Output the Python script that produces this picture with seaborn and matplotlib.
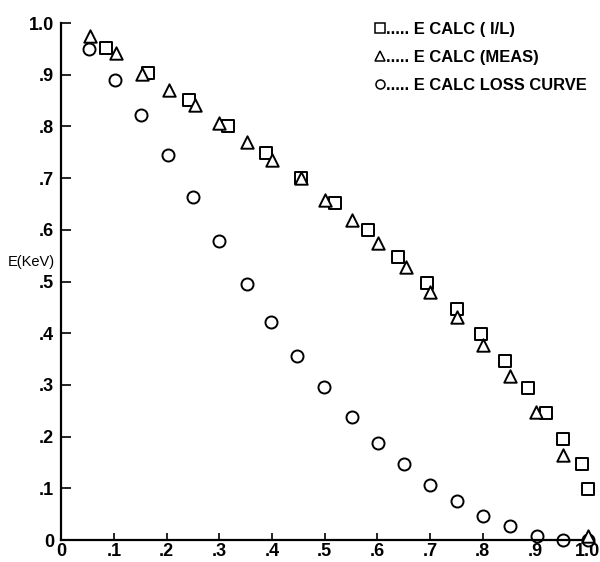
import matplotlib
matplotlib.use("Agg")
import matplotlib.pyplot as plt
from matplotlib.lines import Line2D
import seaborn as sns
import pandas as pd

# E CALC (I/L) - squares
sq_x = [0.085, 0.164, 0.243, 0.317, 0.388, 0.455, 0.52, 0.583, 0.64, 0.694,
        0.751, 0.797, 0.842, 0.886, 0.921, 0.953, 0.988, 1.0]
sq_y = [0.951, 0.903, 0.851, 0.800, 0.748, 0.700, 0.651, 0.600, 0.548, 0.498,
        0.446, 0.398, 0.347, 0.295, 0.245, 0.196, 0.148, 0.099]

# E CALC (MEAS) - triangles
tr_x = [0.055, 0.104, 0.153, 0.205, 0.254, 0.300, 0.352, 0.400, 0.455, 0.501,
        0.552, 0.602, 0.655, 0.700, 0.751, 0.800, 0.852, 0.901, 0.953, 1.0]
tr_y = [0.974, 0.943, 0.901, 0.870, 0.841, 0.807, 0.769, 0.736, 0.700, 0.658,
        0.620, 0.574, 0.529, 0.480, 0.431, 0.377, 0.318, 0.248, 0.164, 0.008]

# E CALC LOSS CURVE - circles
ci_x = [0.053, 0.103, 0.152, 0.202, 0.251, 0.300, 0.352, 0.398, 0.447, 0.499,
        0.552, 0.602, 0.651, 0.700, 0.752, 0.800, 0.852, 0.903, 0.952, 1.0]
ci_y = [0.950, 0.890, 0.823, 0.744, 0.664, 0.578, 0.496, 0.422, 0.356, 0.296,
        0.239, 0.187, 0.148, 0.107, 0.075, 0.046, 0.027, 0.008, 0.001, 0.0]

labels = ["E CALC ( I/L)", "E CALC (MEAS)", "E CALC LOSS CURVE"]
x_ticks = [0, .1, .2, .3, .4, .5, .6, .7, .8, .9, 1.0]
x_ticklabels = ["0", ".1", ".2", ".3", ".4", ".5", ".6", ".7", ".8", ".9", "1.0"]
y_ticks = [0, .1, .2, .3, .4, .5, .6, .7, .8, .9, 1.0]
y_ticklabels = ["0", ".1", ".2", ".3", ".4", ".5", ".6", ".7", ".8", ".9", "1.0"]

sns.set_theme(style="ticks")
plt.rcParams['font.family'] = ['Liberation Sans', 'DejaVu Sans']

fig = plt.figure(figsize=(6.0, 5.62), dpi=100)
ax = fig.add_axes([0.102, 0.039, 0.878, 0.92])

df_sq = pd.DataFrame({"x": sq_x, "y": sq_y})
df_tr = pd.DataFrame({"x": tr_x, "y": tr_y})
df_ci = pd.DataFrame({"x": ci_x, "y": ci_y})

common = dict(facecolor="white", edgecolor="black", linewidth=1.4, clip_on=False, legend=False)
sns.scatterplot(data=df_sq, x="x", y="y", marker="s", s=65, ax=ax, zorder=3, **common)
sns.scatterplot(data=df_tr, x="x", y="y", marker="^", s=80, ax=ax, zorder=4, **common)
sns.scatterplot(data=df_ci, x="x", y="y", marker="o", s=75, ax=ax, zorder=2, **common)

ax.set_xlim(0, 1.0)
ax.set_ylim(0, 1.0)
ax.set_xticks(x_ticks)
ax.set_xticklabels(x_ticklabels)
ax.set_yticks(y_ticks)
ax.set_yticklabels(y_ticklabels)
ax.tick_params(direction="in", width=1.2, labelsize=13, colors="black")
ax.tick_params(axis="x", pad=2, length=5)
ax.tick_params(axis="y", pad=5, length=7)
for lab in ax.get_xticklabels() + ax.get_yticklabels():
    lab.set_fontweight("bold")
sns.despine(ax=ax)
for sp in ["left", "bottom"]:
    ax.spines[sp].set_linewidth(1.6)
    ax.spines[sp].set_color("black")

ax.set_xlabel("")
ax.set_ylabel("")
ax.text(-0.012, 0.538, "E(KeV)", transform=ax.transAxes, ha="right", va="center",
        fontsize=10.5, color="black")

mk = dict(linestyle="none", markerfacecolor="white", markeredgecolor="black",
          markersize=6.5, markeredgewidth=1.1)
handles = [Line2D([], [], marker="s", **mk),
           Line2D([], [], marker="^", **mk),
           Line2D([], [], marker="o", **mk)]
leg_labels = ["..... " + l for l in labels]
leg = ax.legend(handles, leg_labels, loc="upper left",
                bbox_to_anchor=(376 / 600, 1 - 22 / 562),
                bbox_transform=fig.transFigure,
                frameon=False, handlelength=0.5, handletextpad=0.1, labelspacing=0.78,
                fontsize=11.9, borderpad=0, borderaxespad=0)
for t in leg.get_texts():
    t.set_color("black")
    t.set_fontweight("bold")

fig.savefig("out.png", dpi=100)
